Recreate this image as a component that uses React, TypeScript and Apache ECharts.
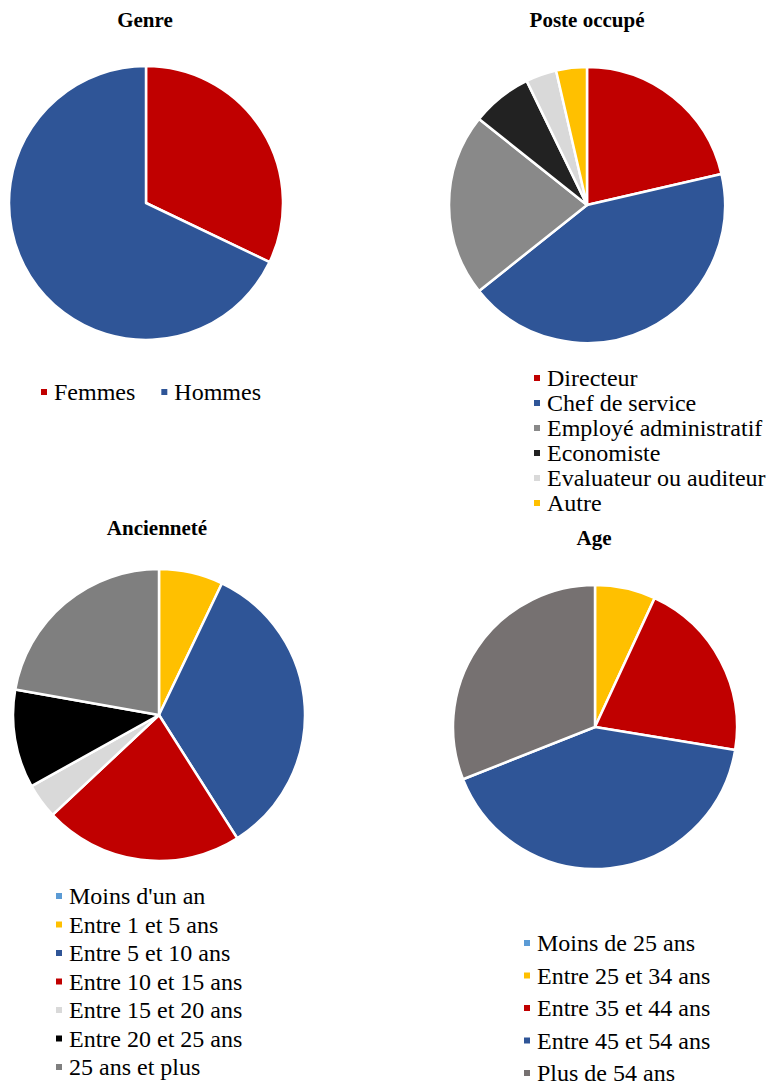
import React, { useEffect, useRef } from "react";
import * as echarts from "echarts";

const genreNames = ["Femmes", "Hommes"];
const genreValues = [32.1, 67.9];
const genreColors = ["#C00000", "#2F5597"];

const posteNames = ["Directeur", "Chef de service", "Employé administratif", "Economiste", "Evaluateur ou auditeur", "Autre"];
const posteValues = [21.4, 42.9, 21.4, 7.1, 3.6, 3.6];
const posteColors = ["#C00000", "#2F5597", "#898989", "#222222", "#D9D9D9", "#FFC000"];

const ancNames = ["Moins d'un an", "Entre 1 et 5 ans", "Entre 5 et 10 ans", "Entre 10 et 15 ans", "Entre 15 et 20 ans", "Entre 20 et 25 ans", "25 ans et plus"];
const ancValues = [0, 7.1, 33.9, 22.0, 3.9, 10.9, 22.2];
const ancColors = ["#5B9BD5", "#FFC000", "#2F5597", "#C00000", "#D9D9D9", "#000000", "#7F7F7F"];

const ageNames = ["Moins de 25 ans", "Entre 25 et 34 ans", "Entre 35 et 44 ans", "Entre 45 et 54 ans", "Plus de 54 ans"];
const ageValues = [0, 6.9, 20.7, 41.4, 31.0];
const ageColors = ["#5B9BD5", "#FFC000", "#C00000", "#2F5597", "#767171"];

const titles = ["Genre", "Poste occupé", "Ancienneté", "Age"];

const FONT = "'Liberation Serif', 'Times New Roman', serif";

function makeData(names: string[], values: number[], colors: string[]) {
  return names.map((n, i) => ({ name: n, value: values[i], itemStyle: { color: colors[i] } }));
}

function pie(id: string, center: [number, number], r: number, names: string[], values: number[], colors: string[]) {
  return {
    type: "pie",
    id,
    center,
    radius: r,
    startAngle: 90,
    clockwise: true,
    label: { show: false },
    labelLine: { show: false },
    emphasis: { disabled: true },
    itemStyle: { borderColor: "#ffffff", borderWidth: 2.5 },
    data: makeData(names, values, colors),
  };
}

function legend(names: string[], left: number, top: number, orient: string, itemGap: number) {
  return {
    orient,
    left,
    top,
    data: names,
    icon: "rect",
    itemWidth: 8,
    itemHeight: 8,
    itemGap,
    selectedMode: false,
    padding: 0,
    textStyle: { fontFamily: FONT, fontSize: 24, lineHeight: 24, color: "#000000", padding: [0, 0, 0, 1] },
  };
}

function titleText(text: string, x: number, y: number) {
  return {
    type: "text",
    x,
    y,
    style: {
      text,
      textAlign: "center",
      textVerticalAlign: "middle",
      fontFamily: FONT,
      fontWeight: "bold",
      fontSize: 21,
      fill: "#000000",
    },
  };
}

export default function App() {
  const ref = useRef<HTMLDivElement>(null);
  useEffect(() => {
    if (!ref.current) return;
    const chart = echarts.init(ref.current, undefined, { renderer: "svg" });
    chart.setOption({
      animation: false,
      backgroundColor: "#ffffff",
      graphic: [
        titleText(titles[0], 145, 20),
        titleText(titles[1], 587, 20),
        titleText(titles[2], 157, 528),
        titleText(titles[3], 594, 538),
      ],
      legend: [
        legend(genreNames, 39, 380, "horizontal", 24),
        legend(posteNames, 532, 366, "vertical", 1),
        legend(ancNames, 54, 884, "vertical", 4.5),
        legend(ageNames, 522, 931, "vertical", 8.5),
      ],
      series: [
        pie("genre", [146, 203], 137, genreNames, genreValues, genreColors),
        pie("poste", [587, 205], 138, posteNames, posteValues, posteColors),
        pie("anc", [159, 715], 146, ancNames, ancValues, ancColors),
        pie("age", [595, 727], 142, ageNames, ageValues, ageColors),
      ],
    });
    return () => chart.dispose();
  }, []);
  return (
    <div
      ref={ref}
      style={{ position: "absolute", left: 0, top: 0, width: 769, height: 1086 }}
    />
  );
}
